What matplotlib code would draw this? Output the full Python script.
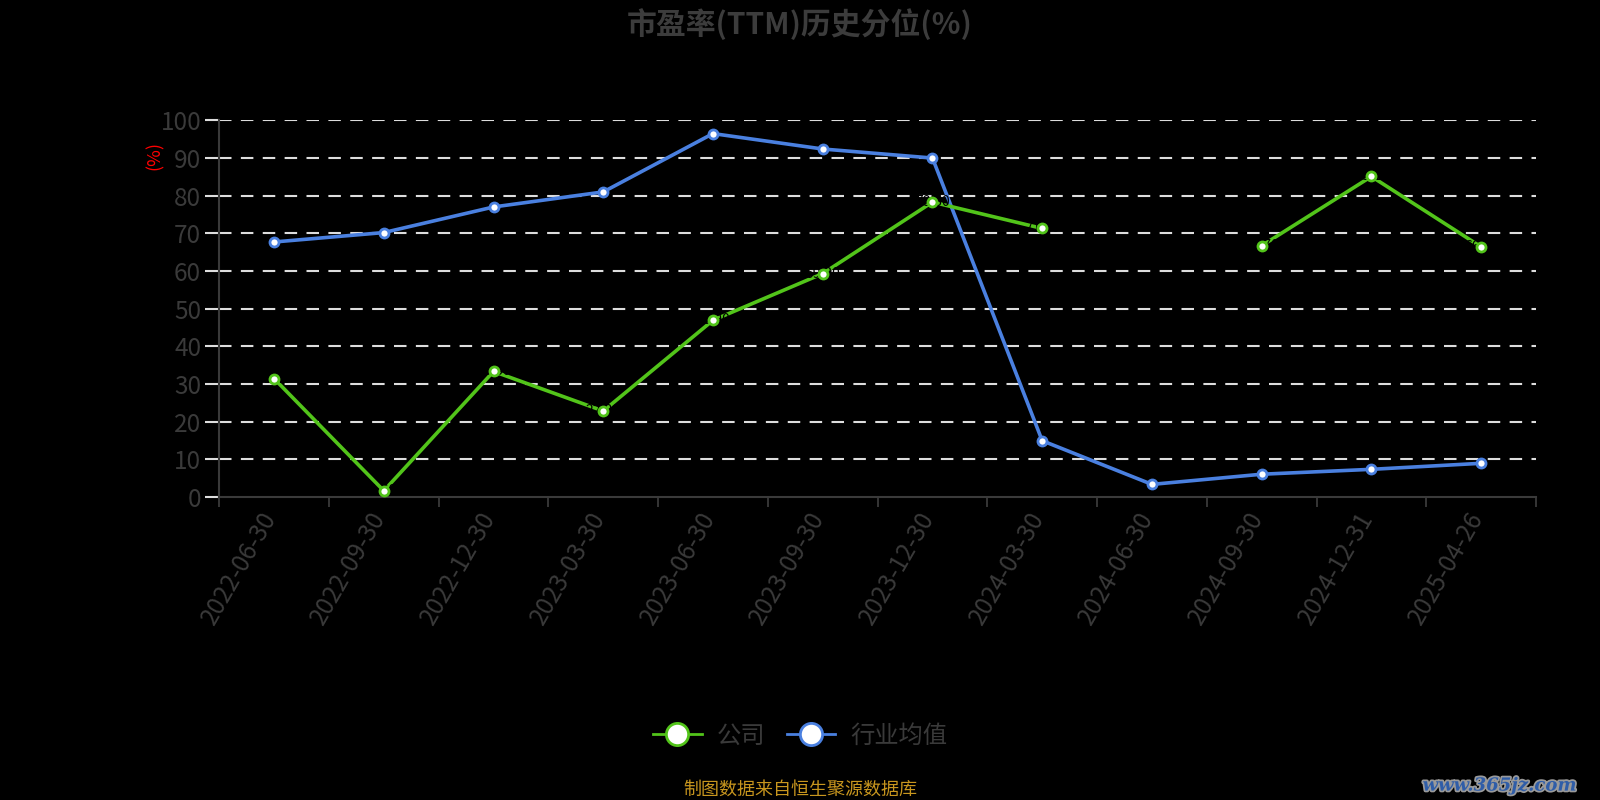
import matplotlib
matplotlib.use("Agg")
import matplotlib.pyplot as plt
import matplotlib.patheffects as pe
import matplotlib.transforms as mtransforms
import numpy as np
from matplotlib.lines import Line2D

plt.rcParams['font.family'] = ['Noto Sans CJK SC', 'DejaVu Sans']

dates = ["2022-06-30", "2022-09-30", "2022-12-30", "2023-03-30", "2023-06-30", "2023-09-30",
         "2023-12-30", "2024-03-30", "2024-06-30", "2024-09-30", "2024-12-31", "2025-04-26"]
company = [31.4, 1.6, 33.3, 22.8, 46.9, 59.3, 78.3, 71.3, np.nan, 66.7, 85.1, 66.4]
industry = [67.7, 70.2, 77.0, 81.0, 96.5, 92.4, 90.0, 14.9, 3.3, 6.0, 7.3, 8.9]
yticks = [0, 10, 20, 30, 40, 50, 60, 70, 80, 90, 100]

green = "#52c41a"
blue = "#4a80e0"
gray = "#3a3a3a"

fig = plt.figure(figsize=(16, 8), dpi=100, facecolor="black")
ax = fig.add_axes([0.137, 0.379, 0.823, 0.4705])
ax.set_facecolor("black")

x = np.arange(len(dates))
ax.set_xlim(-0.5, len(dates) - 0.5)
ax.set_ylim(0, 100)

for y in yticks[1:]:
    ax.axhline(y, color="#dddddd", lw=1.5, ls=(0, (6, 4.5)), zorder=1)

ax.plot(x, industry, color=blue, lw=2.6, zorder=3)
ax.plot(x, company, color=green, lw=2.6, zorder=3)

for xi, v in zip(x, company):
    if not np.isnan(v):
        ax.text(xi, v, f"{v:.2f}", color="black", fontsize=10, ha="center", va="center", zorder=3.5)

ax.plot(x, industry, ls="none", zorder=4, marker="o", ms=6.5, mfc="white", mec=blue, mew=2)
ax.plot(x, company, ls="none", zorder=4, marker="o", ms=6.5, mfc="white", mec=green, mew=2)

ax.set_yticks(yticks)
ax.set_yticklabels([str(t) for t in yticks], fontsize=17.5, color=gray)
ax.tick_params(axis="y", length=10, color="#dddddd", width=1.5, pad=3)
ax.set_xticks(np.arange(len(dates) + 1) - 0.5, minor=False)
ax.set_xticklabels([])
ax.set_xticks(x, minor=True)
ax.set_xticklabels(dates, minor=True, rotation=60, ha="right", rotation_mode="anchor",
                   fontsize=17.5, color=gray)
ax.tick_params(axis="x", which="major", length=7, color=gray, width=1.3)
ax.tick_params(axis="x", which="minor", length=0, pad=12)
offset = mtransforms.ScaledTranslation(-15 / 100, 6 / 100, fig.dpi_scale_trans)
for lbl in ax.get_xticklabels(minor=True):
    lbl.set_transform(lbl.get_transform() + offset)

for s in ["top", "right"]:
    ax.spines[s].set_visible(False)
for s in ["left", "bottom"]:
    ax.spines[s].set_color(gray)
    ax.spines[s].set_linewidth(1.5)

fig.text(0.5, 0.970, "市盈率(TTM)历史分位(%)", ha="center", va="center", fontsize=21.5,
         fontweight="bold", color="#3c3c3c")
fig.text(0.097, 0.806, "(%)", ha="center", va="center", fontsize=13, color="red", rotation=90)

handles = [Line2D([0], [0], color=green, lw=2, marker="o", ms=16, mfc="white", mec=green, mew=2),
           Line2D([0], [0], color=blue, lw=2, marker="o", ms=16, mfc="white", mec=blue, mew=2)]
leg = fig.legend(handles, ["公司", "行业均值"], loc="center", bbox_to_anchor=(0.5, 0.08),
                 ncol=2, frameon=False, fontsize=17.5, labelcolor=gray, handlelength=2.0,
                 columnspacing=0.9, handletextpad=0.6)

fig.text(0.5, 0.013, "制图数据来自恒生聚源数据库", ha="center", va="center", fontsize=13,
         color="#c8961e")
fig.text(0.985, 0.018, "www.365jz.com", ha="right", va="center", fontsize=13, color="#2f5da8",
         fontweight="bold", fontstyle="italic", family=["DejaVu Serif"],
         path_effects=[pe.withStroke(linewidth=2.5, foreground="#9a9a9a")])

fig.savefig("out.png", dpi=100, facecolor="black")
